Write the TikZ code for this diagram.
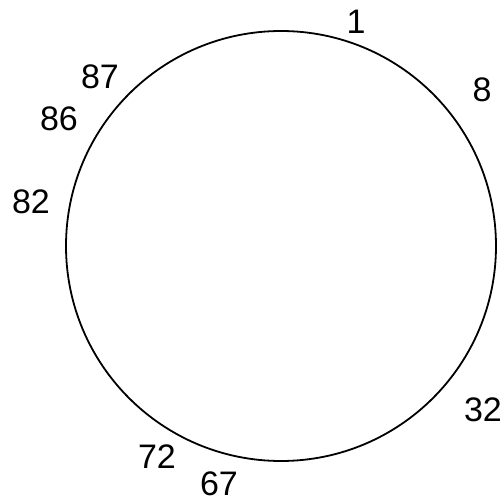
\documentclass[tikz,border=0pt]{standalone}
\usepackage{fontspec}
\setmainfont{Liberation Sans}
\begin{document}
\begin{tikzpicture}[x=1pt,y=-1pt,
  idlabel/.style={inner sep=0pt, font=\fontsize{34}{34}\selectfont}]
\useasboundingbox (0,0) rectangle (504,500);
\node[circle, draw, line width=1.8pt, minimum size=430pt, inner sep=0pt] (ring) at (281,246) {};
\node[idlabel] (n1) at (356,22) {1};
\node[idlabel] (n8) at (482,90) {8};
\node[idlabel] (n32) at (483,410) {32};
\node[idlabel] (n67) at (219,484) {67};
\node[idlabel] (n72) at (157,457) {72};
\node[idlabel] (n82) at (31,202) {82};
\node[idlabel] (n86) at (59,119) {86};
\node[idlabel] (n87) at (100,77) {87};
\end{tikzpicture}
\end{document}
